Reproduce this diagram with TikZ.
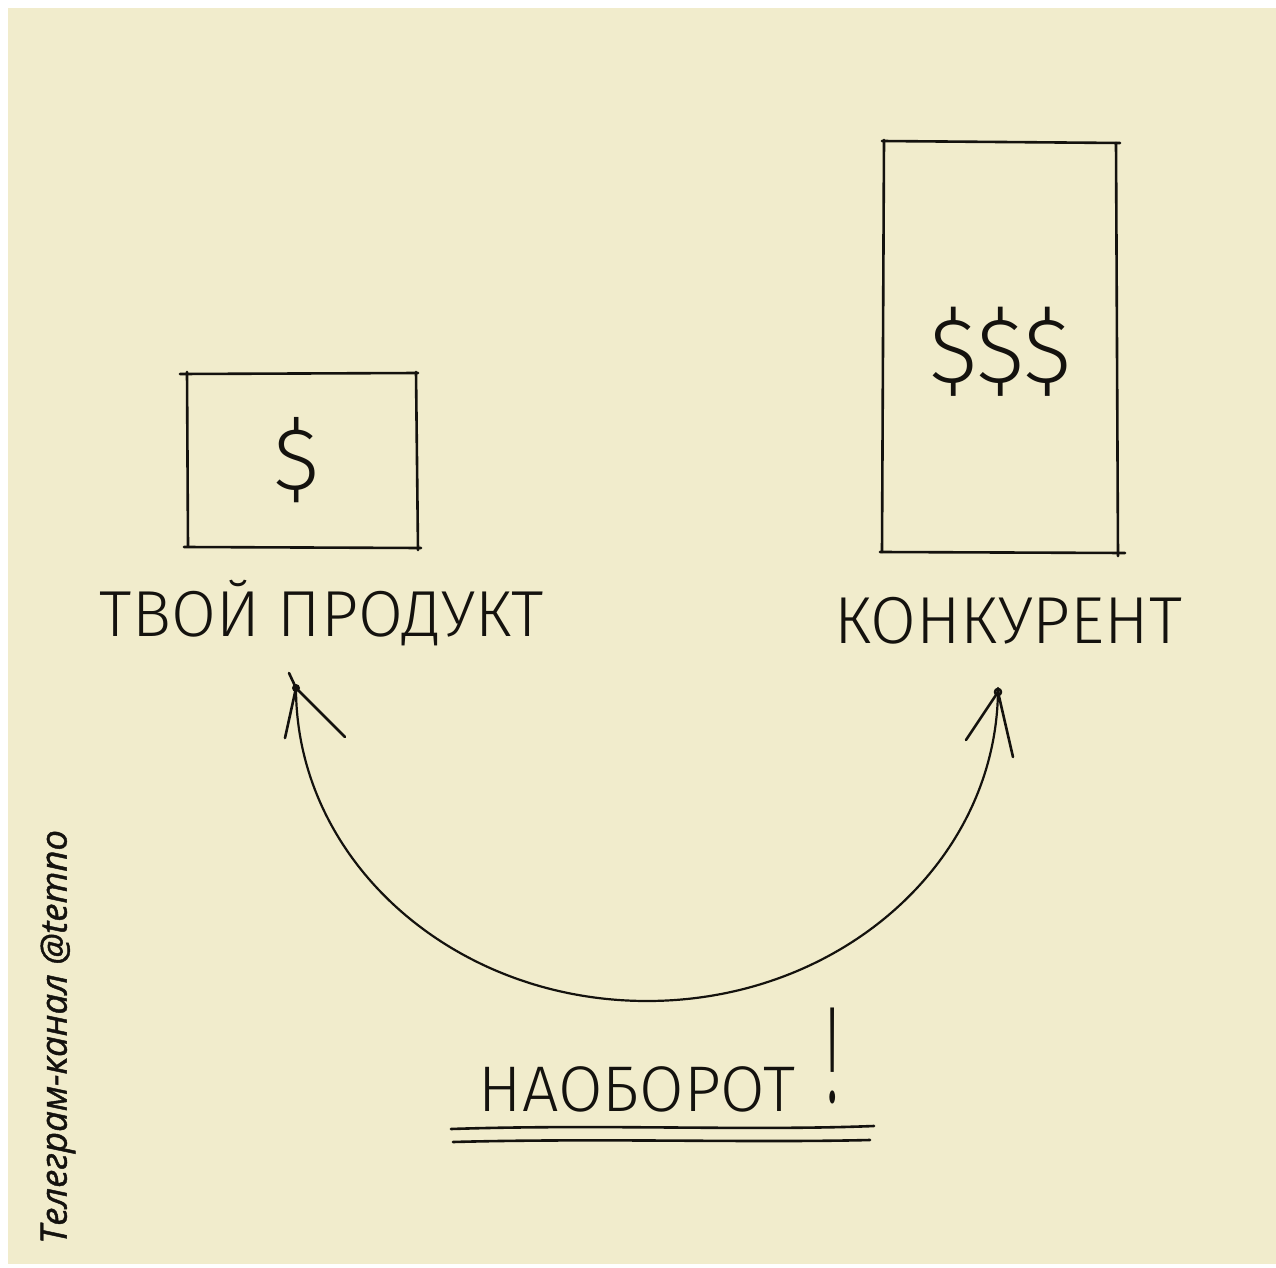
\documentclass[tikz,border=0pt]{standalone}
\usepackage{fontspec}
\setmainfont{Open Sans}
\newfontfamily\handfont{Fira Sans Light}
\newfontfamily\sidefont[FakeBold=1.2]{Open Sans}
\definecolor{paper}{RGB}{241,236,204}
\definecolor{ink}{RGB}{20,18,14}
\begin{document}
\begin{tikzpicture}[x=0.5pt,y=-0.5pt,
  pen/.style={draw=ink,line width=1.3pt,line cap=round,line join=round},
  hand/.style={text=ink,inner sep=0pt,font=\handfont\fontsize{30}{30}\selectfont},
  money/.style={text=ink,inner sep=0pt,font=\handfont}]
\useasboundingbox (0,0) rectangle (1276,1268);
\fill[white] (0,0) rectangle (1276,1268);
\fill[paper] (8,8) rectangle (1276,1264);

% left box
\draw[pen] (180,374) -- (418,373);
\draw[pen] (187,372) -- (188,546);
\draw[pen] (184,547) -- (421,548);
\draw[pen] (416,372) -- (418,550);
\node[money] (d1) at (297,460) {\fontsize{44}{44}\selectfont\$};

% right box
\draw[pen] (882,141) -- (1120,143);
\draw[pen] (884,140) -- (882,552);
\draw[pen] (880,552) -- (1125,553);
\draw[pen] (1116,143) -- (1118,556);
\node[money] (d3) at (1001,352) {\fontsize{46}{46}\selectfont\$\$\$};

% labels
\node[hand] (lp) at (322,613) {\resizebox{222pt}{!}{ТВОЙ ПРОДУКТ}};
\node[hand] (lk) at (1008,621) {\resizebox{174pt}{!}{КОНКУРЕНТ}};

% curve
\coordinate (tl) at (296,688);
\coordinate (tr) at (998,692);
\draw[pen,line width=1.1pt] (tl) arc[start angle=180,end angle=0,x radius=351,y radius=313];
% arrow heads
\coordinate (la) at (285,738);
\coordinate (lb) at (345,737);
\coordinate (lc) at (289,673);
\draw[pen] (la) -- (tl) -- (lb);
\draw[pen] (lc) -- (tl);
\fill[ink] (tl) circle (4);
\coordinate (ra) at (966,740);
\coordinate (rb) at (1013,757);
\draw[pen] (ra) -- (tr) -- (rb);
\draw[pen] (tr) circle (3);

% bottom text
\node[hand] (nb) at (637,1089) {\resizebox{158pt}{!}{НАОБОРОТ}};
\node[hand,anchor=south] (ex) at (833,1104) {\scalebox{1}[2.3]{!}};
\draw[pen] (451,1129) .. controls (600,1124) and (750,1131) .. (874,1126);
\draw[pen] (453,1142) .. controls (600,1138) and (750,1143) .. (870,1140);

% side caption
\node[text=ink,inner sep=0pt,rotate=90] (cap) at (58,1037)
  {\resizebox{207pt}{!}{\sidefont\itshape Телеграм-канал @temno}};
\end{tikzpicture}
\end{document}
